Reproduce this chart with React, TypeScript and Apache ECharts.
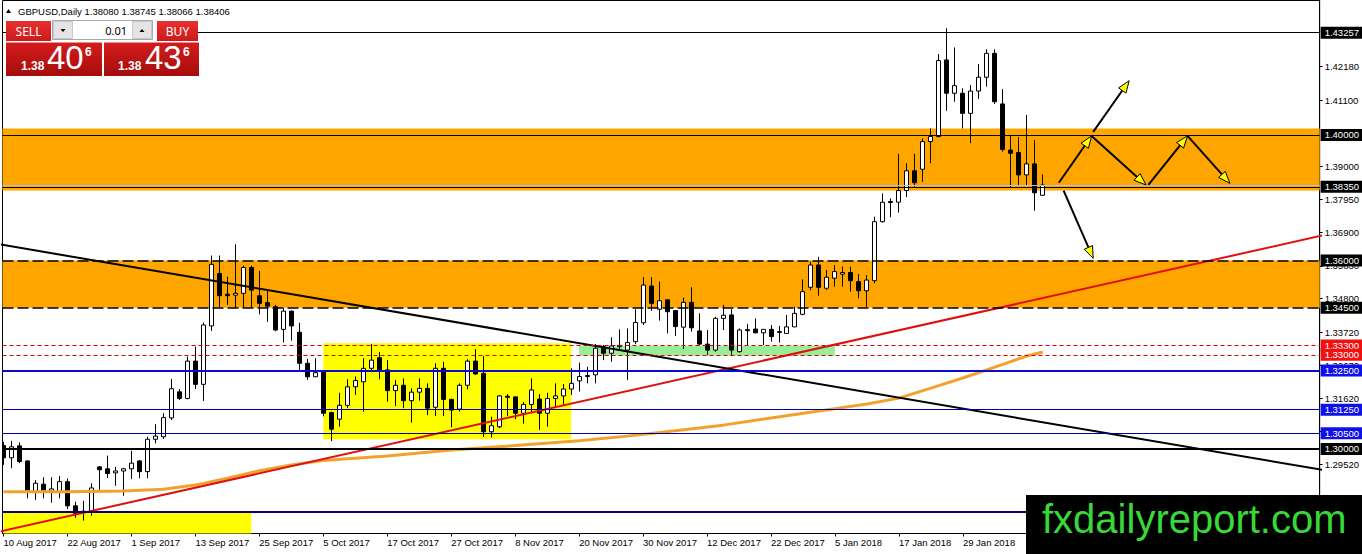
import React, { useEffect, useRef } from 'react';
import * as echarts from 'echarts';

const FONT = '"Liberation Sans", Arial, sans-serif';

// ---------- data ----------
const dateLabels = [
  '10 Aug 2017', '22 Aug 2017', '1 Sep 2017', '13 Sep 2017', '25 Sep 2017', '5 Oct 2017',
  '17 Oct 2017', '27 Oct 2017', '8 Nov 2017', '20 Nov 2017', '30 Nov 2017', '12 Dec 2017',
  '22 Dec 2017', '5 Jan 2018', '17 Jan 2018', '29 Jan 2018',
];
const barsPerLabel = 8;

const opens = [
  1.3011, 1.2972, 1.3010, 1.2962, 1.2864, 1.2888, 1.2866, 1.2864, 1.2896, 1.2819,
  1.2802, 1.2798, 1.2943, 1.2937, 1.2924, 1.2930, 1.2937, 1.2962, 1.2928, 1.3031,
  1.3039, 1.3099, 1.3182, 1.3161, 1.3280, 1.3206, 1.3392, 1.3559, 1.3493, 1.3490,
  1.3496, 1.3578, 1.3488, 1.3466, 1.3453, 1.3381, 1.3439, 1.3372, 1.3273, 1.3230,
  1.3246, 1.3116, 1.3095, 1.3139, 1.3198, 1.3214, 1.3257, 1.3291, 1.3252, 1.3186,
  1.3203, 1.3154, 1.3181, 1.3193, 1.3133, 1.3257, 1.3158, 1.3127, 1.3203, 1.3280,
  1.3241, 1.3055, 1.3071, 1.3168, 1.3166, 1.3114, 1.3142, 1.3159, 1.3114, 1.3161,
  1.3169, 1.3191, 1.3217, 1.3232, 1.3236, 1.3326, 1.3305, 1.3326, 1.3315, 1.3342,
  1.3402, 1.3519, 1.3445, 1.3475, 1.3441, 1.3388, 1.3467, 1.3376, 1.3334, 1.3315,
  1.3416, 1.3427, 1.3310, 1.3380, 1.3382, 1.3370, 1.3381, 1.3372, 1.3368, 1.3389,
  1.3429, 1.3515, 1.3586, 1.3512, 1.3544, 1.3557, 1.3562, 1.3533, 1.3504, 1.3536,
  1.3724, 1.3788, 1.3786, 1.3823, 1.3886, 1.3891, 1.3979, 1.3995, 1.4239, 1.4133,
  1.4133, 1.4069, 1.4140, 1.4184, 1.4260, 1.4099, 1.3952, 1.3944, 1.3873, 1.3908,
  1.3808,
];
const closes = [
  1.2972, 1.3007, 1.2960, 1.2869, 1.2891, 1.2869, 1.2873, 1.2896, 1.2819, 1.2795,
  1.2800, 1.2876, 1.2934, 1.2922, 1.2930, 1.2937, 1.2955, 1.2928, 1.3031, 1.3041,
  1.3100, 1.3192, 1.3161, 1.3280, 1.3206, 1.3395, 1.3588, 1.3488, 1.3488, 1.3496,
  1.3578, 1.3506, 1.3464, 1.3455, 1.3379, 1.3439, 1.3392, 1.3273, 1.3230, 1.3243,
  1.3114, 1.3063, 1.3139, 1.3198, 1.3218, 1.3257, 1.3283, 1.3252, 1.3186, 1.3203,
  1.3154, 1.3181, 1.3193, 1.3130, 1.3257, 1.3158, 1.3124, 1.3203, 1.3280, 1.3239,
  1.3055, 1.3074, 1.3169, 1.3166, 1.3114, 1.3142, 1.3188, 1.3114, 1.3161, 1.3169,
  1.3191, 1.3209, 1.3231, 1.3234, 1.3321, 1.3305, 1.3328, 1.3330, 1.3339, 1.3403,
  1.3522, 1.3464, 1.3472, 1.3437, 1.3390, 1.3467, 1.3386, 1.3334, 1.3315, 1.3416,
  1.3426, 1.3315, 1.3379, 1.3378, 1.3370, 1.3381, 1.3358, 1.3374, 1.3389, 1.3432,
  1.3501, 1.3586, 1.3515, 1.3547, 1.3565, 1.3562, 1.3536, 1.3504, 1.3538, 1.3724,
  1.3786, 1.3786, 1.3823, 1.3886, 1.3848, 1.3979, 1.3995, 1.4237, 1.4133, 1.4157,
  1.4069, 1.4140, 1.4184, 1.4260, 1.4106, 1.3954, 1.3942, 1.3873, 1.3908, 1.3816,
  1.38406,
];
const lows = [
  1.2949, 1.2939, 1.2955, 1.2843, 1.2838, 1.2843, 1.2829, 1.2843, 1.2809, 1.2781,
  1.2772, 1.2787, 1.2870, 1.2908, 1.2883, 1.2851, 1.2904, 1.2907, 1.2907, 1.3018,
  1.3032, 1.3092, 1.3156, 1.3158, 1.3191, 1.3153, 1.3376, 1.3453, 1.3459, 1.3450,
  1.3450, 1.3450, 1.3429, 1.3405, 1.3375, 1.3339, 1.3345, 1.3249, 1.3220, 1.3229,
  1.3104, 1.3025, 1.3071, 1.3130, 1.3172, 1.3119, 1.3246, 1.3222, 1.3151, 1.3137,
  1.3130, 1.3084, 1.3154, 1.3108, 1.3105, 1.3105, 1.3069, 1.3119, 1.3190, 1.3236,
  1.3039, 1.3037, 1.3066, 1.3105, 1.3095, 1.3081, 1.3114, 1.3061, 1.3071, 1.3130,
  1.3137, 1.3172, 1.3183, 1.3209, 1.3209, 1.3283, 1.3278, 1.3316, 1.3220, 1.3334,
  1.3395, 1.3440, 1.3409, 1.3368, 1.3360, 1.3318, 1.3374, 1.3330, 1.3299, 1.3310,
  1.3379, 1.3299, 1.3307, 1.3331, 1.3369, 1.3331, 1.3342, 1.3339, 1.3368, 1.3388,
  1.3426, 1.3506, 1.3488, 1.3506, 1.3517, 1.3517, 1.3501, 1.3480, 1.3453, 1.3528,
  1.3721, 1.3738, 1.3753, 1.3802, 1.3835, 1.3851, 1.3910, 1.3993, 1.4077, 1.4106,
  1.4021, 1.3974, 1.4115, 1.4154, 1.4099, 1.3947, 1.3831, 1.3841, 1.3838, 1.3759,
  1.38066,
];
const highs = [
  1.3023, 1.3026, 1.3021, 1.2963, 1.2901, 1.2910, 1.2910, 1.2914, 1.2906, 1.2832,
  1.2835, 1.2891, 1.2946, 1.2979, 1.2943, 1.2940, 1.2994, 1.2965, 1.3039, 1.3079,
  1.3114, 1.3223, 1.3191, 1.3294, 1.3326, 1.3403, 1.3616, 1.3616, 1.3549, 1.3652,
  1.3584, 1.3584, 1.3567, 1.3506, 1.3459, 1.3448, 1.3441, 1.3402, 1.3287, 1.3289,
  1.3252, 1.3119, 1.3179, 1.3222, 1.3231, 1.3289, 1.3334, 1.3309, 1.3283, 1.3220,
  1.3225, 1.3193, 1.3225, 1.3209, 1.3273, 1.3278, 1.3160, 1.3209, 1.3286, 1.3318,
  1.3296, 1.3103, 1.3172, 1.3175, 1.3167, 1.3150, 1.3225, 1.3175, 1.3179, 1.3209,
  1.3207, 1.3257, 1.3275, 1.3262, 1.3334, 1.3331, 1.3356, 1.3381, 1.3384, 1.3445,
  1.3547, 1.3547, 1.3533, 1.3477, 1.3441, 1.3482, 1.3515, 1.3432, 1.3379, 1.3421,
  1.3459, 1.3445, 1.3384, 1.3398, 1.3416, 1.3381, 1.3395, 1.3392, 1.3427, 1.3453,
  1.3540, 1.3597, 1.3612, 1.3570, 1.3586, 1.3581, 1.3581, 1.3557, 1.3554, 1.3740,
  1.3814, 1.3798, 1.3940, 1.3910, 1.3940, 1.3989, 1.4021, 1.4258, 1.4340, 1.4279,
  1.4149, 1.4159, 1.4226, 1.4273, 1.4273, 1.4146, 1.3997, 1.3993, 1.4064, 1.3984,
  1.38745,
];

// moving average read at sampled bars
const maBars = [0, 8, 15, 20, 24, 28, 32, 36, 40, 48, 56, 64, 72, 78, 84, 90, 96, 102, 108, 112, 116, 120, 124, 128, 130];
const maValues = [
  1.2864, 1.2864, 1.2866, 1.2872, 1.2885, 1.2907, 1.2931, 1.2949, 1.2963, 1.2978,
  1.2997, 1.3011, 1.3026, 1.3041, 1.3058, 1.3076, 1.3099, 1.3121, 1.3143, 1.3162,
  1.3194, 1.3226, 1.3261, 1.3296, 1.3309,
];

const redTrendBars = [-1, 166];
const redTrendValues = [1.27344, 1.36858];
const blackTrendBars = [-1, 166];
const blackTrendValues = [1.3654, 1.2929];

const priceTicks = [1.4218, 1.411, 1.39, 1.3795, 1.369, 1.3583, 1.348, 1.3372, 1.3267, 1.3162, 1.3055, 1.2952, 1.2847];

const blackLevels = [1.43257, 1.4, 1.3835];
const dashedLevels = [1.36, 1.345];
const redLevels = [1.333, 1.33];
const blueThickLevels = [1.325];
const blueThinLevels = [1.3125, 1.305];
const thickBlackLevels = [1.3];
const lowBlueLevels = [1.28];
const bidLevels = [1.38406];

const orangeZones = [[1.4021, 1.3823], [1.36, 1.345]];
const yellowBoxes = [[40, 71, 1.3337, 1.3031], [0, 31, 1.2798, 1.265]];
const greenBoxes = [[72, 104, 1.3329, 1.3297]];

const arrowFromBar = [132, 136.3, 136.1, 143.2, 148.1, 132.6];
const arrowFromPrice = [1.3848, 1.401, 1.3997, 1.3841, 1.3997, 1.3823];
const arrowToBar = [136.1, 140.8, 142.9, 148.1, 153.4, 136.3];
const arrowToPrice = [1.3997, 1.4173, 1.3841, 1.3997, 1.3846, 1.3607];

const headerText = 'GBPUSD,Daily 1.38080 1.38745 1.38066 1.38406';
const lotText = '0.01';
const sellPrice = ['1.38', '40', '6'];
const buyPrice = ['1.38', '43', '6'];
const logoText = 'fxdailyreport.com';

// ---------- chart ----------
function buildOption() {
  const candleData = opens.map((o, i) => [i, o, closes[i], lows[i], highs[i]]);
  const labelBars = dateLabels.map((_, i) => i * barsPerLabel);

  const box = (v: number, bg: string) => ({
    show: true,
    position: 'end',
    distance: 1,
    formatter: () => v.toFixed(5),
    backgroundColor: bg,
    color: '#fff',
    padding: [1, 3, 0, 4],
    fontSize: 9.5,
    lineHeight: 11,
    fontFamily: FONT,
  });
  const lvl = (v: number, color: string, width: number, type: any, bg: string | null) => ({
    yAxis: v,
    lineStyle: { color, width, type },
    label: bg ? box(v, bg) : { show: false },
  });

  const markLines = [
    ...lowBlueLevels.map((v) => lvl(v, '#000080', 2, 'solid', null)),
    ...bidLevels.map((v) => lvl(v, '#C0C0C0', 1, 'solid', null)),
    ...blackLevels.map((v) => lvl(v, '#000', 1, 'solid', '#000')),
    ...dashedLevels.map((v) => lvl(v, '#000', 1.5, [11, 4], '#000')),
    ...redLevels.map((v) => lvl(v, '#E00000', 1.2, [4, 3], '#F01010')),
    ...blueThickLevels.map((v) => lvl(v, '#0A0AD0', 2, 'solid', '#1010E8')),
    ...blueThinLevels.map((v) => lvl(v, '#0000A8', 1, 'solid', '#1010E8')),
    ...thickBlackLevels.map((v) => lvl(v, '#000', 2, 'solid', '#000')),
  ];

  const areas: any[] = [
    ...orangeZones.map((z) => [
      { yAxis: z[0], itemStyle: { color: '#FFA500', opacity: 1 } },
      { yAxis: z[1] },
    ]),
    ...yellowBoxes.map((b) => [
      { coord: [b[0], b[2]], itemStyle: { color: '#FFFF00', opacity: 1 } },
      { coord: [b[1], b[3]] },
    ]),
    ...greenBoxes.map((b) => [
      { coord: [b[0], b[2]], itemStyle: { color: '#98EE98', opacity: 1 } },
      { coord: [b[1], b[3]] },
    ]),
  ];

  const redGrad = (a: string, b: string) =>
    new echarts.graphic.LinearGradient(0, 0, 0, 1, [
      { offset: 0, color: a },
      { offset: 1, color: b },
    ]);

  const txt = (text: string, x: number, y: number, size: number, color: string, align = 'left', weight = 'normal', family = FONT) => ({
    type: 'text',
    z: 101,
    silent: true,
    style: {
      text,
      x,
      y,
      fill: color,
      font: `${weight} ${size}px ${family}`,
      align,
      verticalAlign: 'middle',
      textAlign: align,
      textVerticalAlign: 'middle',
    },
  });

  const graphics: any[] = [
    // header
    { type: 'polygon', z: 101, silent: true, shape: { points: [[6, 13], [8.5, 9], [11, 13]] }, style: { fill: '#000' } },
    txt(headerText, 18, 11, 9.5, '#000'),
    // trading panel
    { type: 'rect', z: 100, silent: true, shape: { x: 50, y: 19, width: 108, height: 23 }, style: { fill: '#fff' } },
    { type: 'rect', z: 100, silent: true, shape: { x: 6, y: 21, width: 45, height: 20 }, style: { fill: redGrad('#E83030', '#CC1A1A') } },
    { type: 'rect', z: 100, silent: true, shape: { x: 157, y: 21, width: 41, height: 20 }, style: { fill: redGrad('#E83030', '#CC1A1A') } },
    { type: 'rect', z: 100, silent: true, shape: { x: 6, y: 42.5, width: 96, height: 33.5 }, style: { fill: redGrad('#D41C1C', '#A60C0C') } },
    { type: 'rect', z: 100, silent: true, shape: { x: 104, y: 42.5, width: 95, height: 33.5 }, style: { fill: redGrad('#D41C1C', '#A60C0C') } },
    { type: 'rect', z: 100, silent: true, shape: { x: 52.5, y: 20.5, width: 100, height: 19 }, style: { fill: '#fff', stroke: '#A8A8A8', lineWidth: 1 } },
    { type: 'rect', z: 100, silent: true, shape: { x: 53.5, y: 21.5, width: 19, height: 17 }, style: { fill: '#E4E4E4', stroke: '#C8C8C8', lineWidth: 1 } },
    { type: 'rect', z: 100, silent: true, shape: { x: 132.5, y: 21.5, width: 19, height: 17 }, style: { fill: '#E4E4E4', stroke: '#C8C8C8', lineWidth: 1 } },
    { type: 'polygon', z: 101, silent: true, shape: { points: [[60.5, 29], [65.5, 29], [63, 32]] }, style: { fill: '#000' } },
    { type: 'polygon', z: 101, silent: true, shape: { points: [[139.5, 32], [144.5, 32], [142, 29]] }, style: { fill: '#000' } },
    txt('SELL', 28.5, 31, 12, '#fff', 'center', 'normal', '"Noto Sans", sans-serif'),
    txt('BUY', 177.5, 31, 12, '#fff', 'center', 'normal', '"Noto Sans", sans-serif'),
    txt(lotText, 127, 30.5, 11, '#000', 'right', 'normal', '"Noto Sans", sans-serif'),
    txt(sellPrice[0], 21, 65.5, 12, '#fff', 'left', 'bold'),
    txt(sellPrice[1], 47, 57.5, 33, '#fff', 'left'),
    txt(sellPrice[2], 85, 51.5, 12, '#fff', 'left', 'bold'),
    txt(buyPrice[0], 118, 65.5, 12, '#fff', 'left', 'bold'),
    txt(buyPrice[1], 145, 57.5, 33, '#fff', 'left'),
    txt(buyPrice[2], 183, 51.5, 12, '#fff', 'left', 'bold'),
    // logo
    { type: 'rect', z: 100, silent: true, shape: { x: 1026, y: 495, width: 336, height: 59 }, style: { fill: '#000' } },
    txt(logoText, 1042, 519, 40, '#38D838'),
  ];

  return {
    animation: false,
    backgroundColor: '#fff',
    grid: {
      left: 2.5,
      top: 0.5,
      width: 1318,
      height: 533,
      show: true,
      borderColor: '#000',
      borderWidth: 1,
      backgroundColor: '#fff',
    },
    xAxis: {
      type: 'value',
      min: -0.125,
      max: 164.625,
      axisLine: { show: true, onZero: false, lineStyle: { color: '#000', width: 1 } },
      axisTick: { show: true, customValues: labelBars, length: 3, lineStyle: { color: '#000' } },
      axisLabel: {
        customValues: labelBars,
        formatter: (v: number) => dateLabels[Math.round(v / barsPerLabel)] ?? '',
        align: 'left',
        margin: 4,
        color: '#000',
        fontSize: 9.5,
        fontFamily: FONT,
      },
      splitLine: { show: false },
    },
    yAxis: {
      type: 'value',
      position: 'right',
      min: 1.273089,
      max: 1.442834,
      axisLine: { show: true, onZero: false, lineStyle: { color: '#000', width: 1 } },
      axisTick: { show: true, customValues: priceTicks, length: 3, lineStyle: { color: '#000' } },
      axisLabel: {
        customValues: priceTicks,
        formatter: (v: number) => v.toFixed(5),
        margin: 5,
        color: '#000',
        fontSize: 9.5,
        fontFamily: FONT,
      },
      splitLine: { show: false },
    },
    graphic: { elements: graphics },
    series: [
      {
        type: 'custom',
        name: 'GBPUSD',
        z: 3,
        silent: true,
        clip: true,
        data: candleData,
        encode: { x: 0, y: [1, 2, 3, 4] },
        renderItem: (_p: any, api: any) => {
          const x = api.value(0);
          const o = api.value(1);
          const c = api.value(2);
          const pO = api.coord([x, o]);
          const pC = api.coord([x, c]);
          const pL = api.coord([x, api.value(3)]);
          const pH = api.coord([x, api.value(4)]);
          const cx = Math.floor(pO[0]) + 0.5;
          const top = Math.min(pO[1], pC[1]);
          const h = Math.max(Math.abs(pO[1] - pC[1]), 1);
          const bull = c >= o;
          return {
            type: 'group',
            children: [
              { type: 'line', shape: { x1: cx, y1: pH[1], x2: cx, y2: pL[1] }, style: { stroke: '#000', lineWidth: 1 } },
              { type: 'rect', shape: { x: cx - 2, y: top, width: 4, height: h }, style: { fill: bull ? '#fff' : '#000', stroke: '#000', lineWidth: 1 } },
            ],
          };
        },
        markArea: { silent: true, precision: 6, data: areas, label: { show: false } },
        markLine: { silent: true, precision: 6, symbol: ['none', 'none'], data: markLines, emphasis: { disabled: true } },
      },
      {
        type: 'line',
        name: 'MA',
        z: 4,
        silent: true,
        showSymbol: false,
        data: maBars.map((b, i) => [b, maValues[i]]),
        lineStyle: { color: '#F2A22C', width: 3 },
      },
      {
        type: 'line',
        name: 'red trend',
        z: 4,
        silent: true,
        showSymbol: false,
        data: redTrendBars.map((b, i) => [b, redTrendValues[i]]),
        lineStyle: { color: '#E01010', width: 2 },
      },
      {
        type: 'line',
        name: 'black trend',
        z: 4,
        silent: true,
        showSymbol: false,
        data: blackTrendBars.map((b, i) => [b, blackTrendValues[i]]),
        lineStyle: { color: '#000', width: 2 },
      },
      {
        type: 'custom',
        name: 'arrows',
        z: 6,
        silent: true,
        data: arrowFromBar.map((b, i) => [b, arrowFromPrice[i], arrowToBar[i], arrowToPrice[i]]),
        encode: { x: [0, 2], y: [1, 3] },
        renderItem: (_p: any, api: any) => {
          const p1 = api.coord([api.value(0), api.value(1)]);
          const p2 = api.coord([api.value(2), api.value(3)]);
          const dx = p2[0] - p1[0];
          const dy = p2[1] - p1[1];
          const len = Math.hypot(dx, dy) || 1;
          const ux = dx / len;
          const uy = dy / len;
          const headLen = 12;
          const half = 4.5;
          const bx = p2[0] - ux * headLen;
          const by = p2[1] - uy * headLen;
          const nx = -uy;
          const ny = ux;
          return {
            type: 'group',
            children: [
              { type: 'line', shape: { x1: p1[0], y1: p1[1], x2: bx, y2: by }, style: { stroke: '#000', lineWidth: 2 } },
              {
                type: 'polygon',
                shape: { points: [[p2[0], p2[1]], [bx + nx * half, by + ny * half], [bx - nx * half, by - ny * half]] },
                style: { fill: '#FFFF00', stroke: '#000', lineWidth: 1 },
              },
            ],
          };
        },
      },
    ],
  };
}

export default function App() {
  const ref = useRef<HTMLDivElement>(null);
  useEffect(() => {
    if (!ref.current) return;
    const chart = echarts.init(ref.current, null, { renderer: 'svg' });
    chart.setOption(buildOption() as any);
    return () => chart.dispose();
  }, []);
  return (
    <div
      ref={ref}
      style={{ position: 'fixed', left: 0, top: 0, width: 1362, height: 554, background: '#fff' }}
    />
  );
}
